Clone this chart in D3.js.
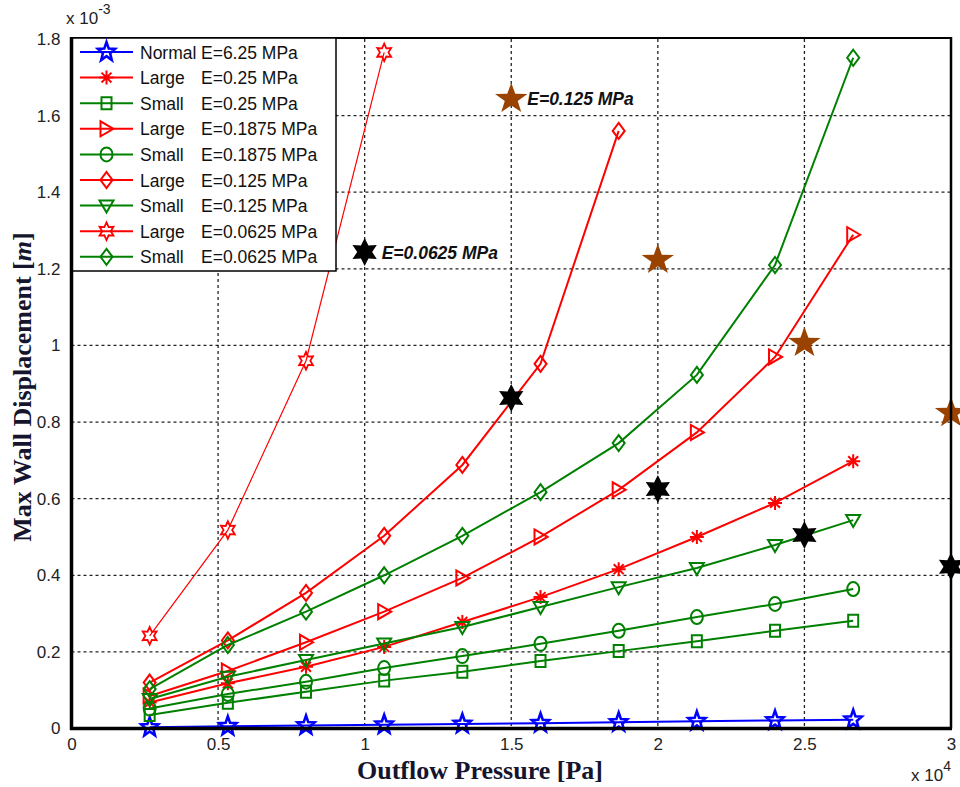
<!DOCTYPE html>
<html>
<head>
<meta charset="utf-8">
<script src="https://cdn.jsdelivr.net/npm/d3@7/dist/d3.min.js"></script>
<style>
  html, body { margin: 0; padding: 0; background: #fff; }
  svg { display: block; }
</style>
</head>
<body>
<svg id="chart" width="960" height="787"></svg>
<script>
// Outflow pressure, in units of 1e4 Pa (steps of 20 mmHg)
const pressure = [0.26664, 0.53328, 0.79992, 1.06656, 1.3332, 1.59984, 1.86648, 2.13312, 2.39976, 2.6664];

// Max wall displacement, in units of 1e-3 m
const normal625   = [0.003, 0.006, 0.008, 0.010, 0.012, 0.014, 0.016, 0.019, 0.021, 0.023];
const large025    = [0.068, 0.118, 0.161, 0.213, 0.278, 0.343, 0.416, 0.500, 0.589, 0.698];
const small025    = [0.035, 0.067, 0.096, 0.125, 0.148, 0.176, 0.202, 0.228, 0.255, 0.281];
const large01875  = [0.085, 0.150, 0.225, 0.305, 0.393, 0.500, 0.623, 0.773, 0.970, 1.289];
const small01875  = [0.052, 0.090, 0.122, 0.158, 0.189, 0.221, 0.255, 0.291, 0.325, 0.364];
const large0125   = [0.120, 0.230, 0.354, 0.503, 0.688, 0.952, 1.560];
const small0125   = [0.077, 0.135, 0.179, 0.222, 0.265, 0.317, 0.369, 0.419, 0.479, 0.544];
const large00625  = [0.242, 0.518, 0.960, 1.765];
const small00625  = [0.103, 0.218, 0.305, 0.400, 0.503, 0.617, 0.745, 0.923, 1.210, 1.751];

const seriesNames  = ["Normal", "Large", "Small", "Large", "Small", "Large", "Small", "Large", "Small"];
const seriesModuli = ["E=6.25 MPa", "E=0.25 MPa", "E=0.25 MPa", "E=0.1875 MPa", "E=0.1875 MPa",
                      "E=0.125 MPa", "E=0.125 MPa", "E=0.0625 MPa", "E=0.0625 MPa"];
const seriesValues = [normal625, large025, small025, large01875, small01875, large0125, small0125, large00625, small00625];
const seriesColors = ["#0000ff", "#ff0000", "#008000", "#ff0000", "#008000", "#ff0000", "#008000", "#ff0000", "#008000"];
const seriesMarkers = ["pentagram", "asterisk", "square", "triright", "circle", "diamond", "tridown", "hexagram", "diamond"];
const seriesWidths = [2, 2, 2, 2, 2, 2, 2, 1.2, 2];

// Reference points (filled stars) and their labels
const brownX = [1.5, 2.0, 2.5, 3.0];
const brownY = [1.646, 1.226, 1.009, 0.826];
const blackX = [1.0, 1.5, 2.0, 2.5, 3.0];
const blackY = [1.244, 0.863, 0.625, 0.505, 0.422];
const noteBrown = "E=0.125 MPa";
const noteBlack = "E=0.0625 MPa";

const xTicks = [0, 0.5, 1, 1.5, 2, 2.5, 3];
const yTicks = [0, 0.2, 0.4, 0.6, 0.8, 1, 1.2, 1.4, 1.6, 1.8];

const svg = d3.select("#chart");
const L = 71.5, R = 951, T = 39, B = 728.5;
const x = d3.scaleLinear().domain([0, 3]).range([L, R]);
const y = d3.scaleLinear().domain([0, 1.8]).range([B, T]);

// Grid
const grid = svg.append("g");
grid.selectAll("line.gx").data(xTicks.slice(1, -1)).join("line")
  .attr("x1", d => x(d)).attr("x2", d => x(d)).attr("y1", T).attr("y2", B)
  .attr("stroke", "#222").attr("stroke-width", 1.3).attr("stroke-dasharray", "3,3");
grid.selectAll("line.gy").data(yTicks.slice(1, -1)).join("line")
  .attr("x1", L).attr("x2", R).attr("y1", d => y(d)).attr("y2", d => y(d))
  .attr("stroke", "#222").attr("stroke-width", 1.3).attr("stroke-dasharray", "3,3");

// Axes (labels only, ticks hidden under the grid)
const fmt = d => d === 0 ? "0" : d3.format("")(+d.toFixed(1));
const xAxis = svg.append("g").attr("transform", `translate(0,${B})`)
  .call(d3.axisBottom(x).tickValues(xTicks).tickSize(0).tickPadding(9).tickFormat(fmt));
const yAxis = svg.append("g").attr("transform", `translate(${L},0)`)
  .call(d3.axisLeft(y).tickValues(yTicks).tickSize(0).tickPadding(11).tickFormat(fmt));
[xAxis, yAxis].forEach(a => {
  a.select(".domain").remove();
  a.selectAll("text").attr("font-family", "Arial, 'Liberation Sans', sans-serif")
    .attr("font-size", 17).attr("fill", "#222");
});

// Marker shapes
function markerPath(type) {
  const p = d3.path();
  if (type === "square") { p.rect(-5, -6, 10, 12); }
  else if (type === "diamond") { p.moveTo(0, -8); p.lineTo(6, 0); p.lineTo(0, 8); p.lineTo(-6, 0); p.closePath(); }
  else if (type === "triright") { p.moveTo(7, 0); p.lineTo(-6, -7.5); p.lineTo(-6, 7.5); p.closePath(); }
  else if (type === "tridown") { p.moveTo(-7, -5); p.lineTo(7, -5); p.lineTo(0, 7); p.closePath(); }
  else if (type === "asterisk") {
    for (let a = 0; a < 4; a++) {
      const t = a * Math.PI / 4;
      p.moveTo(-7 * Math.cos(t), -7 * Math.sin(t)); p.lineTo(7 * Math.cos(t), 7 * Math.sin(t));
    }
  }
  else if (type === "pentagram" || type === "hexagram") {
    const n = type === "pentagram" ? 5 : 6;
    const ro = type === "pentagram" ? 9 : 8, ri = type === "pentagram" ? 3.8 : 4.3;
    for (let i = 0; i < 2 * n; i++) {
      const r = i % 2 ? ri : ro;
      const t = -Math.PI / 2 + i * Math.PI / n;
      const px = r * Math.cos(t), py = r * Math.sin(t) * 1.1;
      i ? p.lineTo(px, py) : p.moveTo(px, py);
    }
    p.closePath();
  }
  return p.toString();
}

function drawMarker(g, type, color, cx, cy) {
  if (type === "circle") {
    g.append("ellipse").attr("cx", cx).attr("cy", cy).attr("rx", 6).attr("ry", 7)
      .attr("fill", "none").attr("stroke", color).attr("stroke-width", 2);
  } else {
    const sw = type === "hexagram" ? 1.8 : type === "pentagram" ? 2.6 : 2;
    g.append("path").attr("d", markerPath(type)).attr("transform", `translate(${cx},${cy})`)
      .attr("fill", "none").attr("stroke", color).attr("stroke-width", sw);
  }
}

// Series
const line = d3.line().x(d => x(d[0])).y(d => y(d[1]));
seriesValues.forEach((vals, i) => {
  const pts = vals.map((v, k) => [pressure[k], v]);
  const g = svg.append("g");
  g.append("path").datum(pts).attr("d", line)
    .attr("fill", "none").attr("stroke", seriesColors[i]).attr("stroke-width", seriesWidths[i]);
  pts.forEach(pt => drawMarker(g, seriesMarkers[i], seriesColors[i], x(pt[0]), y(pt[1])));
});

// Filled reference stars
function starPath(n, ro, ri, sy) {
  const p = d3.path();
  for (let i = 0; i < 2 * n; i++) {
    const r = i % 2 ? ri : ro;
    const t = -Math.PI / 2 + i * Math.PI / n;
    const px = r * Math.cos(t), py = r * Math.sin(t) * sy;
    i ? p.lineTo(px, py) : p.moveTo(px, py);
  }
  p.closePath();
  return p.toString();
}
svg.append("g").selectAll("path").data(brownX.map((d, i) => [d, brownY[i]])).join("path")
  .attr("d", starPath(5, 17, 6.8, 0.95))
  .attr("transform", d => `translate(${x(d[0])},${y(d[1]) + 1})`)
  .attr("fill", "#9a4200");
svg.append("g").selectAll("path").data(blackX.map((d, i) => [d, blackY[i]])).join("path")
  .attr("d", starPath(6, 14, 7.5, 1.0))
  .attr("transform", d => `translate(${x(d[0])},${y(d[1])})`)
  .attr("fill", "#000");

const noteFont = "Arial, 'Liberation Sans', sans-serif";
svg.append("text").attr("x", x(1.5) + 16).attr("y", y(brownY[0]) + 7)
  .attr("font-family", noteFont).attr("font-size", 17.5).attr("font-weight", "bold")
  .attr("font-style", "italic").attr("fill", "#111").text(noteBrown);
svg.append("text").attr("x", x(1.0) + 17).attr("y", y(blackY[0]) + 7)
  .attr("font-family", noteFont).attr("font-size", 17.5).attr("font-weight", "bold")
  .attr("font-style", "italic").attr("fill", "#111").text(noteBlack);

// Axes box
svg.append("line").attr("x1", L).attr("x2", R).attr("y1", T - 1).attr("y2", T - 1).attr("stroke", "#000").attr("stroke-width", 2);
svg.append("line").attr("x1", R).attr("x2", R).attr("y1", T - 2).attr("y2", B).attr("stroke", "#000").attr("stroke-width", 2.5);
svg.append("line").attr("x1", L).attr("x2", L).attr("y1", T - 2).attr("y2", B + 1.5).attr("stroke", "#000").attr("stroke-width", 3.5);
svg.append("line").attr("x1", L - 1.5).attr("x2", R + 1).attr("y1", B).attr("y2", B).attr("stroke", "#000").attr("stroke-width", 3.5);

// Legend
const leg = svg.append("g");
leg.append("rect").attr("x", L + 1).attr("y", T - 1).attr("width", 336 - L - 1).attr("height", 271 - T + 1)
  .attr("fill", "#fff").attr("stroke", "#000").attr("stroke-width", 1.5);
seriesNames.forEach((name, i) => {
  const cy = 52 + i * 25.6;
  leg.append("line").attr("x1", 80).attr("x2", 133).attr("y1", cy).attr("y2", cy)
    .attr("stroke", seriesColors[i]).attr("stroke-width", 2);
  drawMarker(leg, seriesMarkers[i], seriesColors[i], 106.5, cy);
  const t = leg.append("text").attr("x", 140).attr("y", cy + 6.5)
    .attr("font-family", "Arial, 'Liberation Sans', sans-serif").attr("font-size", 17.5).attr("fill", "#111");
  t.append("tspan").text(name + " ");
  t.append("tspan").attr("x", 201).text(seriesModuli[i]);
});

// Axis titles
const titleFont = "'Times New Roman', 'Liberation Serif', serif";
const xt = svg.append("text").attr("x", 480).attr("y", 779).attr("text-anchor", "middle")
  .attr("font-family", titleFont).attr("font-size", 26).attr("font-weight", "bold").attr("fill", "#15152e");
xt.append("tspan").text("Outflow Pressure [Pa]");
const yt = svg.append("text").attr("transform", "translate(31,387) rotate(-90)").attr("text-anchor", "middle")
  .attr("font-family", titleFont).attr("font-size", 26).attr("font-weight", "bold").attr("fill", "#15152e");
yt.append("tspan").text("Max Wall Displacement [");
yt.append("tspan").attr("font-style", "italic").text("m");
yt.append("tspan").text("]");

// Exponent labels
const ex1 = svg.append("text").attr("x", 66).attr("y", 24)
  .attr("font-family", "Arial, 'Liberation Sans', sans-serif").attr("font-size", 17).attr("fill", "#222");
ex1.append("tspan").text("x 10");
ex1.append("tspan").attr("dy", -10).attr("font-size", 14).text("-3");
const ex2 = svg.append("text").attr("x", 911).attr("y", 781)
  .attr("font-family", "Arial, 'Liberation Sans', sans-serif").attr("font-size", 17).attr("fill", "#222");
ex2.append("tspan").text("x 10");
ex2.append("tspan").attr("dy", -10).attr("font-size", 14).text("4");
</script>
</body>
</html>
